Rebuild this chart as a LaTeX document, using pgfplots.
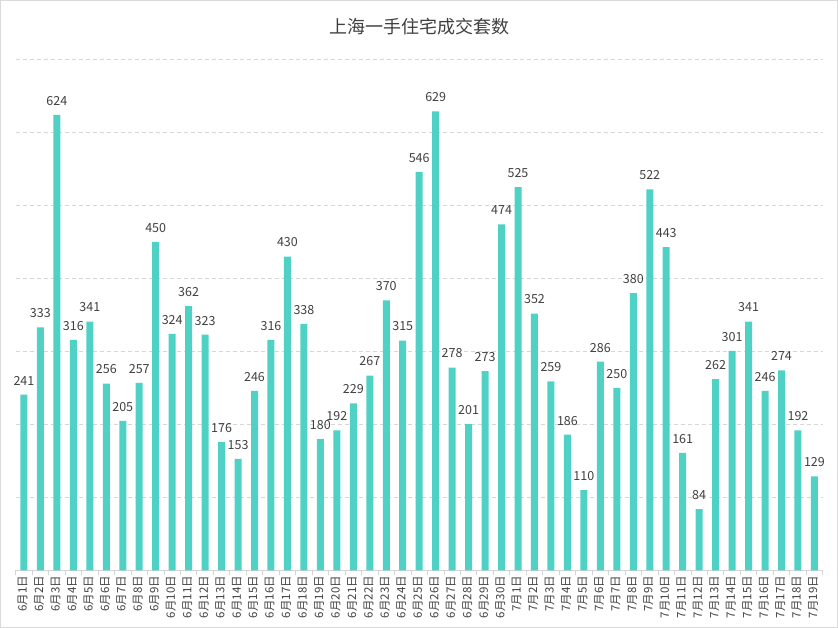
\documentclass[border=0pt]{standalone}
\usepackage{pgfplots}
\pgfplotsset{compat=1.18}
\usepackage{fontspec}
\setmainfont{Noto Sans CJK SC}
\newfontfamily\cjk{Noto Sans CJK SC}
\definecolor{barc}{HTML}{4FD1C5}
\definecolor{txt}{HTML}{404040}
\definecolor{gridc}{HTML}{D6D6D6}
\definecolor{axc}{HTML}{D4D4D4}
\definecolor{framec}{HTML}{DADADA}
\begin{document}
\begin{tikzpicture}
\useasboundingbox (0pt,0pt) rectangle (838pt,628pt);
\draw[color=framec, line width=1.2pt] (0.6pt,0.6pt) rectangle (837.4pt,627.4pt);
\begin{axis}[
  at={(15.7pt,57.5pt)}, anchor=south west,
  scale only axis, width=807pt, height=511pt,
  xmin=-0.5, xmax=48.5, ymin=0, ymax=700,
  axis x line*=bottom, axis y line*=left,
  x axis line style={color=axc, line width=0.8pt, -},
  y axis line style={draw=none},
  ytick={100,200,...,700}, yticklabels={},
  major y tick style={draw=none},
  ymajorgrids, grid style={color=gridc, dash pattern=on 4pt off 3pt, line width=0.6pt},
  xtick={0,...,48},
  major x tick style={draw=none},
  minor xtick={-0.5,0.5,...,48.5},
  minor x tick style={color=axc, line width=0.8pt},
  minor tick length=5pt, tick align=outside,
  xticklabels={6月1日,6月2日,6月3日,6月4日,6月5日,6月6日,6月7日,6月8日,6月9日,6月10日,6月11日,6月12日,6月13日,6月14日,6月15日,6月16日,6月17日,6月18日,6月19日,6月20日,6月21日,6月22日,6月23日,6月24日,6月25日,6月26日,6月27日,6月28日,6月29日,6月30日,7月1日,7月2日,7月3日,7月4日,7月5日,7月6日,7月7日,7月8日,7月9日,7月10日,7月11日,7月12日,7月13日,7月14日,7月15日,7月16日,7月17日,7月18日,7月19日},
  xticklabel style={rotate=90, anchor=east, font=\cjk\fontsize{11.5}{12}\selectfont, text=txt, inner sep=1pt},
  typeset ticklabels with strut=false,
  title={上海一手住宅成交套数},
  title style={at={(0.5,1)}, anchor=center, yshift=27pt, font=\cjk\fontsize{18}{20}\selectfont, text=txt},
  /pgf/number format/assume math mode=true,
  nodes near coords,
  every node near coord/.append style={font=\cjk\fontsize{12.5}{13}\selectfont, text=txt, yshift=6pt},
  clip=false,
]
\addplot[ybar, bar width=7pt, fill=barc, draw=none, bar shift=0pt] coordinates {
(0,241) (1,333) (2,624) (3,316) (4,341) (5,256) (6,205) (7,257) (8,450) (9,324)
(10,362) (11,323) (12,176) (13,153) (14,246) (15,316) (16,430) (17,338) (18,180) (19,192)
(20,229) (21,267) (22,370) (23,315) (24,546) (25,629) (26,278) (27,201) (28,273) (29,474)
(30,525) (31,352) (32,259) (33,186) (34,110) (35,286) (36,250) (37,380) (38,522) (39,443)
(40,161) (41,84) (42,262) (43,301) (44,341) (45,246) (46,274) (47,192) (48,129)
};
\end{axis}
\end{tikzpicture}
\end{document}
